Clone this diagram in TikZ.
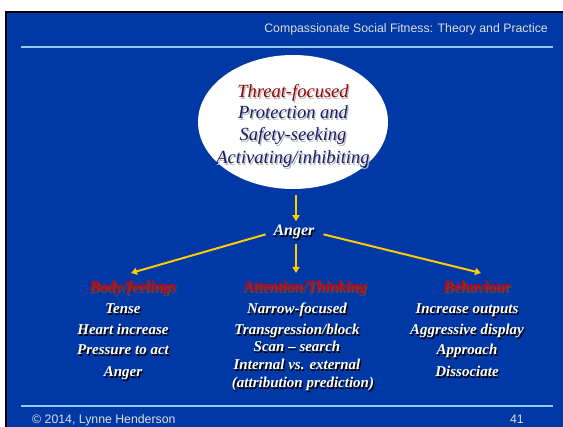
\documentclass[tikz,border=0pt]{standalone}
\usepackage{fontspec}
\setmainfont{Liberation Serif}
\newfontfamily\slidesans{Liberation Sans}
\usetikzlibrary{shapes.geometric,arrows.meta}

\definecolor{slideblue}{RGB}{0,57,166}
\definecolor{rulecol}{RGB}{150,200,250}
\definecolor{capcol}{RGB}{222,222,222}
\definecolor{arrowgold}{RGB}{255,204,0}
\definecolor{headred}{RGB}{220,0,0}
\definecolor{darkred}{RGB}{150,0,0}
\definecolor{navy}{RGB}{25,25,105}

\tikzset{
  caption/.style={font=\slidesans\fontsize{12.3}{14}\selectfont, text=capcol, inner sep=0pt},
  ovaltext/.style={font=\fontsize{18.5}{22}\selectfont\itshape, text=navy, inner sep=0pt, anchor=base},
  itemtext/.style={font=\fontsize{15}{18}\selectfont\bfseries\itshape, text=white, inner sep=0pt, anchor=base},
  headtext/.style={itemtext, font=\fontsize{15.5}{18}\selectfont\bfseries\itshape, text=headred},
  flow/.style={draw=arrowgold, line width=2pt, -{Triangle[length=6pt,width=7pt]}},
  rulebar/.style={draw=rulecol, line width=2.4pt},
}

% text with a dark offset copy behind it
\newcommand\shadowed[6]{% #1 name, #2 style, #3 shadow colour, #4 x, #5 y, #6 text
  \node[#2, xshift=1.2pt, yshift=-1.2pt, text=#3] at (#4,#5) {#6};
  \node[#2] (#1) at (#4,#5) {#6};
}

\begin{document}
\begin{tikzpicture}[x=1pt, y=-1pt]
  \useasboundingbox (0,0) rectangle (563,427);
  % slide background with its dark edge
  \fill[white] (0,0) rectangle (563,427);
  \fill[black] (5,11) rectangle (563,427);
  \fill[slideblue] (7,13) rectangle (563,427);

  % header and footer
  \node[caption, anchor=base east] (title) at (548,33) {Compassionate Social Fitness: Theory and Practice};
  \coordinate (topL) at (21,47);
  \coordinate (topR) at (553,47);
  \draw[rulebar] (topL) -- (topR);
  \coordinate (botL) at (21,406);
  \coordinate (botR) at (553,406);
  \draw[rulebar] (botL) -- (botR);
  \node[caption, anchor=base west] (credit) at (32,424) {\textcopyright\ 2014, Lynne Henderson};
  \node[caption, anchor=base east] (pageno) at (524,424) {41};

  % central oval
  \node[ellipse, fill=white, minimum width=190pt, minimum height=134pt, inner sep=0pt] (oval) at (293,122) {};
  \shadowed{ov1}{ovaltext, text=darkred}{gray!55}{293}{98}{Threat-focused}
  \shadowed{ov2}{ovaltext}{gray!55}{293}{119}{Protection and}
  \shadowed{ov3}{ovaltext}{gray!55}{293}{141}{Safety-seeking}
  \shadowed{ov4}{ovaltext}{gray!55}{293}{164}{Activating/inhibiting}

  % emotion
  \shadowed{anger}{itemtext, font=\fontsize{16}{18}\selectfont\bfseries\itshape, inner sep=1pt}{black}{294}{236}{Anger}

  % column headings
  \shadowed{body}{headtext}{black!70}{133}{292}{Body/feelings}
  \shadowed{attn}{headtext}{black!70}{305}{292}{Attention/Thinking}
  \shadowed{beh}{headtext}{black!70}{477}{292}{Behaviour}

  % body/feelings column
  \shadowed{b1}{itemtext}{black}{123}{314}{Tense}
  \shadowed{b2}{itemtext}{black}{123}{335}{Heart increase}
  \shadowed{b3}{itemtext}{black}{123}{355}{Pressure to act}
  \shadowed{b4}{itemtext}{black}{123}{377}{Anger}

  % attention/thinking column
  \shadowed{t1}{itemtext}{black}{297}{314}{Narrow-focused}
  \shadowed{t2}{itemtext}{black}{297}{335}{Transgression/block}
  \shadowed{t3}{itemtext}{black}{297}{352}{Scan -- search}
  \shadowed{t4}{itemtext}{black}{297}{370}{Internal vs. external}
  \shadowed{t5}{itemtext}{black}{303}{388}{(attribution prediction)}

  % behaviour column
  \shadowed{h1}{itemtext}{black}{467}{314}{Increase outputs}
  \shadowed{h2}{itemtext}{black}{467}{335}{Aggressive display}
  \shadowed{h3}{itemtext}{black}{467}{355}{Approach}
  \shadowed{h4}{itemtext}{black}{467}{377}{Dissociate}

  % arrow ends above the columns
  \coordinate (toBody) at (131,273);
  \coordinate (toAttn) at (296,273);
  \coordinate (toBeh) at (481,273);

  % connectors
  \draw[flow, shorten <=6pt, shorten >=3pt] ([xshift=2pt]anger.north |- oval.south) -- ([xshift=2pt]anger.north);
  \draw[flow, shorten <=7pt] (anger.west) -- (toBody);
  \draw[flow, shorten <=3pt] ([xshift=2pt]anger.south) -- (toAttn);
  \draw[flow, shorten <=8pt] (anger.east) -- (toBeh);
\end{tikzpicture}
\end{document}
